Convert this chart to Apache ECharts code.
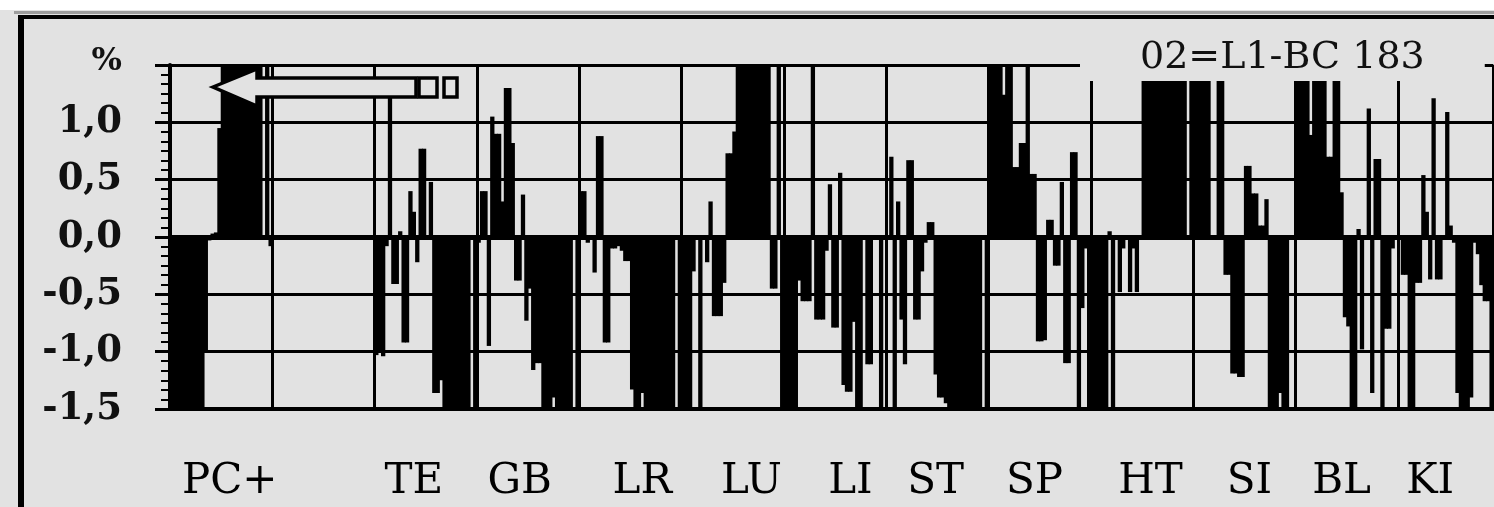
<!DOCTYPE html>
<html><head><meta charset="utf-8">
<script src="https://cdn.jsdelivr.net/npm/echarts@6/dist/echarts.min.js"></script>
<style>html,body{margin:0;padding:0;background:#fff;}#c{width:1494px;height:507px;}</style>
</head><body><div id="c"></div>
<script>
// group labels and the category index where each label sits
const groupNames = ['PC+','TE','GB','LR','LU','LI','ST','SP','HT','SI','BL','KI'];
const groupAt = [17,71,102,138,170,199,224,253,287,316,343,369];
// y tick labels
const yTickLabels = {'-1.5':'-1,5','-1':'-1,0','-0.5':'-0,5','0':'0,0','0.5':'0,5','1':'1,0','1.5':'{p|%}'};
const titleText = '02=L1-BC 183';

// bar values (%), 30 bars per vertical grid cell
const cell00 = [-1.5,-1.5,-1.5,-1.5,-1.5,-1.5,-1.5,-1.5,-1.5,-1.5,-1.0,-0.03,0.03,0.04,0.95,1.5,1.5,1.5,1.5,1.5,1.5,1.5,1.5,1.5,1.5,1.5,1.5,0,1.5,-0.08];
const cell01 = [0,0,0,0,0,0,0,0,0,0,0,0,0,0,0,0,0,0,0,0,0,0,0,0,0,0,0,0,0,0];
const cell02 = [-1.03,-1.0,-1.04,-0.08,1.23,-0.41,-0.41,0.05,-0.92,-0.92,0.40,0.22,-0.22,0.77,0.77,0,0.48,-1.36,-1.36,-1.25,-1.5,-1.5,-1.5,-1.5,-1.5,-1.5,-1.5,-1.5,0,-1.5];
const cell03 = [-0.05,0.40,0.40,-0.95,1.05,0.90,0.90,0.31,1.30,1.30,0.82,-0.38,-0.38,0.37,-0.73,-0.45,-1.16,-1.1,-1.1,-1.5,-1.5,-1.5,-1.4,-1.5,-1.5,-1.5,-1.5,-1.5,0,-1.5];
const cell04 = [0.40,0.40,-0.05,0,-0.31,0.88,0.88,-0.92,-0.92,-0.1,-0.1,-0.08,-0.12,-0.21,-0.21,-1.33,-1.5,-1.5,-1.36,-1.5,-1.5,-1.5,-1.5,-1.5,-1.5,-1.5,-1.5,-1.5,0,-1.5];
const cell05 = [-1.5,-1.5,-1.5,-0.3,0,-1.5,0,-0.22,0.31,-0.69,-0.69,-0.69,-0.4,0.73,0.73,0.92,1.5,1.5,1.5,1.5,1.5,1.5,1.5,1.5,1.5,1.5,-0.45,-0.45,1.5,-1.5];
const cell06 = [-1.5,-1.5,-1.5,-1.5,-0.38,-0.56,-0.56,-0.56,1.5,-0.72,-0.72,-0.72,-0.12,0.46,-0.79,-0.79,0.56,-1.29,-1.35,-1.35,-0.74,-1.5,-1.5,0,-1.11,-1.11,0,0,-1.5,0];
const cell07 = [0,0.70,-1.5,0.31,-0.72,-1.11,0.67,0.67,-0.72,-0.72,-0.30,-0.05,0.13,0.13,-1.2,-1.4,-1.4,-1.45,-1.5,-1.5,-1.5,-1.5,-1.5,-1.5,-1.5,-1.5,-1.5,-1.5,0,-1.5];
const cell08 = [1.5,1.5,1.5,1.5,1.24,1.5,1.5,0.61,0.61,0.82,0.82,1.5,0.55,0.55,-0.91,-0.91,-0.9,0.15,0.15,-0.25,-0.25,0.48,-1.10,-1.10,0.74,0.74,-1.5,-0.62,-0.1,-1.5];
const cell09 = [-1.5,-1.5,-1.5,-1.5,-1.5,0.05,-1.5,0,-0.48,-0.1,0,-0.48,-0.1,-0.48,0,1.5,1.5,1.5,1.5,1.5,1.5,1.5,1.5,1.5,1.5,1.5,1.5,1.5,0,1.5];
const cell10 = [1.5,1.5,1.5,1.45,1.45,0,0,1.5,1.5,-0.33,-0.33,-1.19,-1.19,-1.22,-1.22,0.62,0.62,0.38,0.38,0.1,0.1,0.33,-1.5,-1.5,-1.5,-1.36,-1.5,-1.5,0,0];
const cell11 = [1.5,1.5,1.5,1.5,0.89,1.5,1.5,1.5,1.5,0.70,0.70,1.5,1.5,0.39,-0.7,-0.78,-1.5,-1.5,0.07,-0.98,0,1.12,-1.36,0.68,0.68,-1.5,-0.8,-0.8,-0.1,0];
const cell12 = [0,-0.33,-0.33,-1.5,-1.5,-0.4,-0.4,0.54,0.22,-0.37,1.21,-0.37,-0.37,0,1.09,0.1,-0.05,-1.36,-1.5,-1.5,-1.5,-1.4,-0.05,-0.15,-0.42,-0.56,-0.56,-1.5];

const values = [].concat(cell00,cell01,cell02,cell03,cell04,cell05,cell06,cell07,cell08,cell09,cell10,cell11,cell12);
const categories = values.map((v, i) => { const k = groupAt.indexOf(i); return k >= 0 ? groupNames[k] : ''; });

const BG = '#e2e2e2';
const chart = echarts.init(document.getElementById('c'), null, {renderer: 'canvas'});
chart.setOption({
  backgroundColor: BG,
  animation: false,
  title: {
    text: titleText, left: 1080, top: 34, z: 10,
    backgroundColor: BG, padding: [6, 60, 4, 60],
    textStyle: {fontFamily: 'DejaVu Serif', fontSize: 38, fontWeight: 'normal', color: '#111', lineHeight: 36}
  },
  grid: {left: 170, right: 0.7, top: 65, bottom: 98, containLabel: false},
  xAxis: {
    type: 'category', data: categories, boundaryGap: true,
    axisLine: {onZero: false, lineStyle: {color: '#000', width: 4}},
    axisTick: {show: false},
    axisLabel: {interval: (i) => categories[i] !== '', margin: 52, fontFamily: 'DejaVu Serif', fontSize: 42, color: '#000'},
    splitLine: {show: true, interval: (i) => i % 30 === 0, lineStyle: {color: '#000', width: 3}}
  },
  yAxis: {
    type: 'value', min: -1.5, max: 1.5, interval: 0.5,
    axisLine: {show: true, lineStyle: {color: '#000', width: 4}},
    axisTick: {show: true, length: 15, lineStyle: {color: '#000', width: 3}},
    minorTick: {show: true, splitNumber: 6, length: 9, lineStyle: {color: '#000', width: 2}},
    splitLine: {show: true, lineStyle: {color: '#000', width: 3}},
    axisLabel: {
      margin: 48, fontFamily: 'DejaVu Serif', fontWeight: 'bold', fontSize: 37, color: '#111',
      formatter: (v) => yTickLabels[String(v)] || '',
      rich: {p: {fontFamily: 'DejaVu Serif', fontWeight: 'bold', fontSize: 32, color: '#111', padding: [0, 0, 6, 0]}}
    }
  },
  series: [{
    type: 'bar', data: values, barWidth: 4.3,
    itemStyle: {color: '#000'},
    markLine: {silent: true, symbol: 'none', label: {show: false},
      lineStyle: {color: '#000', width: 5, type: 'solid'}, data: [{yAxis: 0}]}
  }],
  graphic: [
    {type: 'rect', z: 100, shape: {x: 0, y: 0, width: 1494, height: 10}, style: {fill: '#fff'}},
    {type: 'rect', z: 100, shape: {x: 14, y: 11, width: 1480, height: 3}, style: {fill: '#9c9c9c'}},
    {type: 'rect', z: 100, shape: {x: 18, y: 15, width: 1476, height: 4}, style: {fill: '#000'}},
    {type: 'rect', z: 100, shape: {x: 18, y: 15, width: 6, height: 492}, style: {fill: '#000'}},
    {type: 'polygon', z: 100, shape: {points: [[213,87],[257,69],[257,78],[416,78],[416,97],[257,97],[257,106]]},
      style: {fill: BG, stroke: '#000', lineWidth: 3.5, lineJoin: 'miter'}},
    {type: 'rect', z: 100, shape: {x: 419, y: 78, width: 18, height: 19}, style: {fill: BG, stroke: '#000', lineWidth: 3.5}},
    {type: 'rect', z: 100, shape: {x: 444, y: 78, width: 13, height: 19}, style: {fill: BG, stroke: '#000', lineWidth: 3.5}}
  ]
});
</script></body></html>
